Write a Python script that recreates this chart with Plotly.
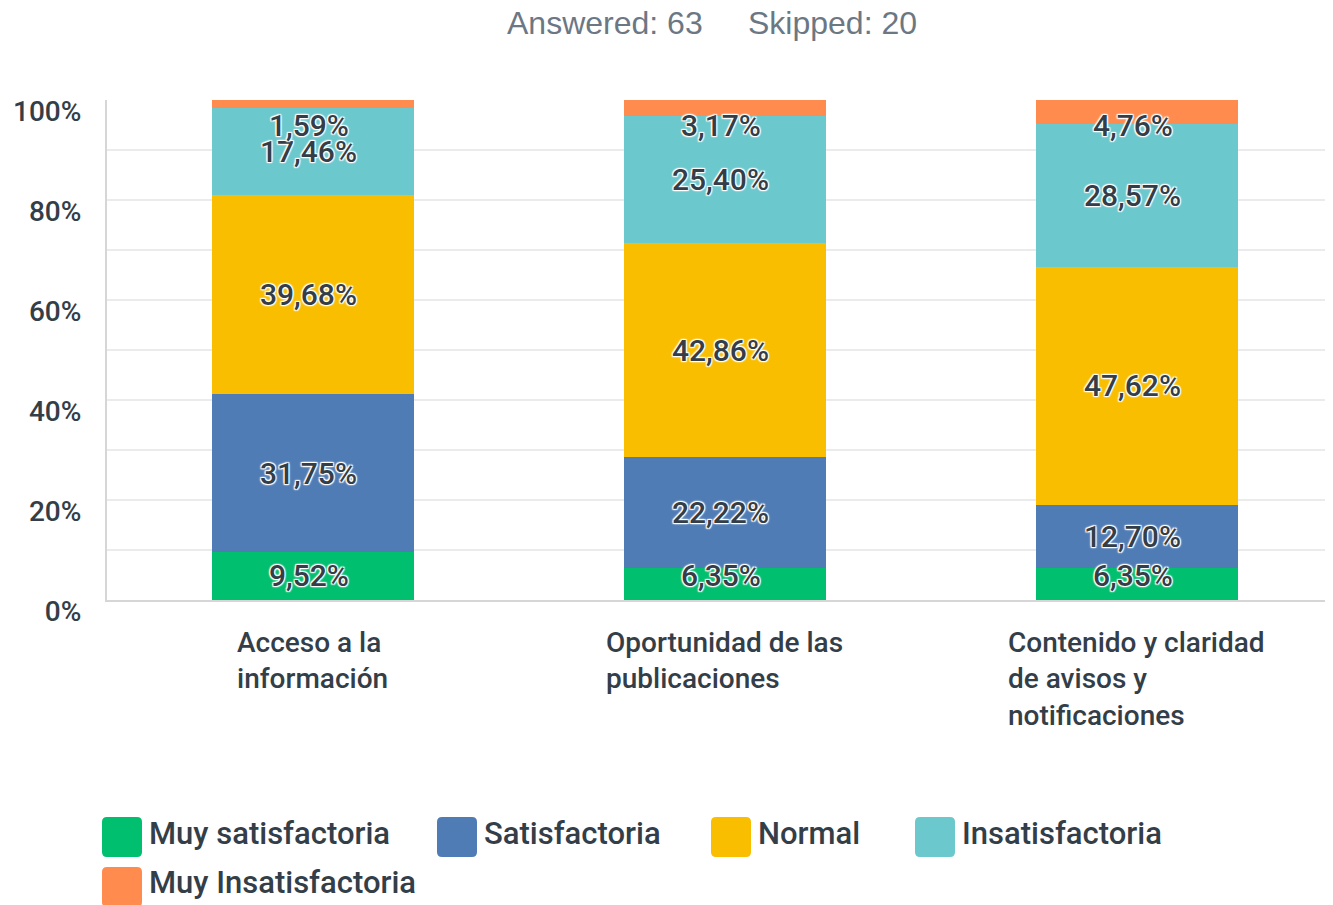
import plotly.graph_objects as go

# ---------------- data ----------------
categories = ["Acceso a la<br>información",
              "Oportunidad de las<br>publicaciones",
              "Contenido y claridad<br>de avisos y<br>notificaciones"]
series_names = ["Muy satisfactoria", "Satisfactoria", "Normal",
                "Insatisfactoria", "Muy Insatisfactoria"]
muy_satisfactoria = [9.52, 6.35, 6.35]
satisfactoria = [31.75, 22.22, 12.70]
normal = [39.68, 42.86, 47.62]
insatisfactoria = [17.46, 25.40, 28.57]
muy_insatisfactoria = [1.59, 3.17, 4.76]
series_values = [muy_satisfactoria, satisfactoria, normal,
                 insatisfactoria, muy_insatisfactoria]
colors = ["#00BF6F", "#507CB6", "#F9BE00", "#6BC8CD", "#FF8B4F"]
y_tick_vals = [0, 20, 40, 60, 80, 100]
y_tick_text = ["0%", "20%", "40%", "60%", "80%", "100%"]
answered_text = "Answered: 63"
skipped_text = "Skipped: 20"

# ---------------- layout constants ----------------
OFF = 8                       # page body margin
W, H = 1333 - OFF, 905 - OFF
ML, MT = 107 - OFF, 100 - OFF
PW, PH = 1226, 500
MR = max(W - ML - PW, 0)
MB = H - MT - PH
TEXT = "#333e48"
FONT = "Roboto"


def px_x(p):
    return (p - OFF - ML) / PW


def px_y(p):
    return (MT + PH - (p - OFF)) / PH


xs = list(range(len(categories)))
fig = go.Figure()
for name, vals, col in zip(series_names, series_values, colors):
    fig.add_trace(go.Bar(x=xs, y=vals, name=name, marker=dict(color=col, line=dict(width=0)),
                         width=0.49, showlegend=False, hoverinfo="skip"))

# data labels (clamped inside the plot as in the reference)
halo = ("-1px -1px 1px #fff, 1px -1px 1px #fff, -1px 1px 1px #fff, 1px 1px 1px #fff, "
        "0 0 3px #fff")
annotations = []
for i in xs:
    base = 0.0
    for vals in series_values:
        v = vals[i]
        c = base + v / 2
        c = min(max(c, 5), 95)
        annotations.append(dict(
            x=i, y=c, xref="x", yref="y", showarrow=False, xshift=-4,
            text=f"{v:.2f}".replace(".", ",") + "%",
            font=dict(family=FONT, size=30, color=TEXT, weight=500, shadow=halo),
            xanchor="center", yanchor="middle"))
        base += v

# category labels
for i, cat in enumerate(categories):
    annotations.append(dict(
        x=i, y=0, xref="x", yref="paper", yshift=-24, showarrow=False,
        text=cat, align="left", xanchor="center", yanchor="top",
        font=dict(family=FONT, size=28, color=TEXT, weight=500)))

# header
for txt, left in ((answered_text, 505), (skipped_text, 746)):
    annotations.append(dict(x=px_x(left), y=px_y(23), xref="paper", yref="paper",
                            showarrow=False, text=txt, xanchor="left", yanchor="middle",
                            font=dict(family="Liberation Sans", size=32, color="#6b7884")))

# custom legend
legend_pos = [(102, 817), (437, 817), (711, 817), (915, 817), (102, 867)]
shapes = []


def rounded_rect(x0, y0, x1, y1, r=5):
    X0, X1 = px_x(x0), px_x(x1)
    Y0, Y1 = px_y(y0), px_y(y1)
    rx, ry = r / PW, r / PH
    return (f"M {X0+rx},{Y0} L {X1-rx},{Y0} Q {X1},{Y0} {X1},{Y0-ry} "
            f"L {X1},{Y1+ry} Q {X1},{Y1} {X1-rx},{Y1} L {X0+rx},{Y1} "
            f"Q {X0},{Y1} {X0},{Y1+ry} L {X0},{Y0-ry} Q {X0},{Y0} {X0+rx},{Y0} Z")


for (lx, ly), name, col in zip(legend_pos, series_names, colors):
    shapes.append(dict(type="path", xref="paper", yref="paper",
                       path=rounded_rect(lx, ly, lx + 40, ly + 40),
                       fillcolor=col, line=dict(width=0), layer="above"))
    annotations.append(dict(x=px_x(lx + 45), y=px_y(ly + 16), xref="paper", yref="paper",
                            showarrow=False, text=name, xanchor="left", yanchor="middle",
                            font=dict(family=FONT, size=31, color=TEXT, weight=500)))

fig.update_layout(
    barmode="stack",
    width=W, height=H,
    margin=dict(l=ML, r=MR, t=MT, b=MB, pad=0),
    paper_bgcolor="white", plot_bgcolor="white",
    showlegend=False,
    annotations=annotations,
    shapes=shapes,
    xaxis=dict(range=[-0.5, 2.476], showticklabels=False, showgrid=False, zeroline=False,
               showline=True, linecolor="#d6d6d6", linewidth=2, ticks=""),
    yaxis=dict(range=[0, 100], tickvals=y_tick_vals, ticktext=y_tick_text,
               showgrid=True, gridcolor="#ebebeb", gridwidth=1.5,
               minor=dict(dtick=10, showgrid=True, gridcolor="#ebebeb", gridwidth=1.5),
               zeroline=False, showline=True, linecolor="#d6d6d6", linewidth=2,
               ticks="", ticklabelstandoff=18, ticklabelshift=11,
               tickfont=dict(family=FONT, size=28, color=TEXT, weight=500)),
)

fig.write_html("out.html")
